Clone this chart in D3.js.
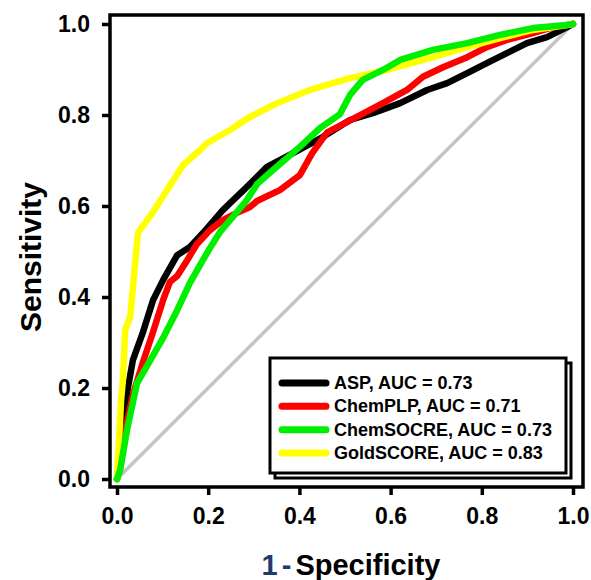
<!DOCTYPE html>
<html>
<head>
<meta charset="utf-8">
<script src="https://cdn.jsdelivr.net/npm/d3@7"></script>
<style>
  html, body { margin: 0; padding: 0; background: #fff; }
  svg { display: block; }
  text { font-family: Arial, "Liberation Sans", sans-serif; font-weight: bold; }
</style>
</head>
<body>
<svg id="chart" width="591" height="580"></svg>
<script>
// ---- data ----
const seriesNames = ["ASP", "ChemPLP", "ChemSOCRE", "GoldSCORE"];
const seriesAUC = ["0.73", "0.71", "0.73", "0.83"];
const seriesColors = ["#000000", "#ff0000", "#00ee00", "#ffff00"];

const aspFPR = [0, 0.013, 0.022, 0.035, 0.057, 0.079, 0.101, 0.132, 0.160, 0.189, 0.232, 0.285, 0.329, 0.386, 0.452, 0.511, 0.561, 0.621, 0.680, 0.724, 0.768, 0.811, 0.855, 0.899, 0.943, 0.987, 1];
const aspTPR = [0, 0.108, 0.189, 0.262, 0.323, 0.393, 0.437, 0.492, 0.510, 0.541, 0.591, 0.642, 0.686, 0.716, 0.752, 0.789, 0.804, 0.826, 0.855, 0.870, 0.892, 0.914, 0.936, 0.958, 0.971, 0.993, 1];

const plpFPR = [0, 0.007, 0.018, 0.035, 0.057, 0.079, 0.101, 0.116, 0.132, 0.154, 0.175, 0.204, 0.232, 0.263, 0.292, 0.307, 0.357, 0.401, 0.428, 0.461, 0.526, 0.583, 0.636, 0.671, 0.715, 0.768, 0.811, 0.855, 0.912, 0.956, 1];
const plpTPR = [0, 0.026, 0.108, 0.185, 0.257, 0.323, 0.393, 0.433, 0.446, 0.481, 0.516, 0.547, 0.569, 0.585, 0.598, 0.611, 0.635, 0.668, 0.716, 0.762, 0.796, 0.826, 0.855, 0.884, 0.905, 0.927, 0.949, 0.965, 0.980, 0.993, 1];

const chemFPR = [0, 0.007, 0.022, 0.044, 0.072, 0.101, 0.132, 0.160, 0.182, 0.204, 0.226, 0.254, 0.285, 0.307, 0.342, 0.401, 0.445, 0.489, 0.511, 0.539, 0.583, 0.621, 0.693, 0.768, 0.840, 0.912, 0.987, 1];
const chemTPR = [0, 0.020, 0.108, 0.211, 0.259, 0.310, 0.371, 0.431, 0.470, 0.508, 0.543, 0.576, 0.613, 0.648, 0.679, 0.730, 0.771, 0.802, 0.844, 0.877, 0.899, 0.921, 0.943, 0.958, 0.976, 0.991, 0.998, 1];

const goldFPR = [0, 0.009, 0.013, 0.018, 0.029, 0.046, 0.079, 0.110, 0.145, 0.182, 0.197, 0.248, 0.292, 0.351, 0.423, 0.511, 0.592, 0.693, 0.768, 0.840, 0.912, 0.987, 1];
const goldTPR = [0, 0.174, 0.218, 0.327, 0.356, 0.541, 0.587, 0.635, 0.690, 0.723, 0.738, 0.767, 0.796, 0.826, 0.855, 0.881, 0.899, 0.927, 0.949, 0.969, 0.987, 0.998, 1];

const tickValues = [0, 0.2, 0.4, 0.6, 0.8, 1.0];
const tickLabels = ["0.0", "0.2", "0.4", "0.6", "0.8", "1.0"];

const xTitleParts = ["1", "-", "Specificity"];
const yTitle = "Sensitivity";

// ---- layout ----
const svg = d3.select("#chart");
const frame = { left: 110, right: 583, top: 15, bottom: 487 };
const x = d3.scaleLinear().domain([0, 1]).range([117, 573]);
const y = d3.scaleLinear().domain([0, 1]).range([479, 24]);

// diagonal reference line
svg.append("line")
  .attr("x1", x(0)).attr("y1", y(0))
  .attr("x2", x(1)).attr("y2", y(1))
  .attr("stroke", "#c4c4c4").attr("stroke-width", 3.5);

const series = [
  { fpr: aspFPR, tpr: aspTPR },
  { fpr: plpFPR, tpr: plpTPR },
  { fpr: chemFPR, tpr: chemTPR },
  { fpr: goldFPR, tpr: goldTPR }
];
const order = [0, 1, 3, 2];
const line = d3.line().x(d => x(d[0])).y(d => y(d[1]));
order.forEach(i => {
  const pts = series[i].fpr.map((f, k) => [f, series[i].tpr[k]]);
  svg.append("path")
    .attr("d", line(pts))
    .attr("fill", "none")
    .attr("stroke", seriesColors[i])
    .attr("stroke-width", 6.5)
    .attr("stroke-linejoin", "round")
    .attr("stroke-linecap", "round");
});

// frame
svg.append("rect")
  .attr("x", frame.left).attr("y", frame.top)
  .attr("width", frame.right - frame.left).attr("height", frame.bottom - frame.top)
  .attr("fill", "none").attr("stroke", "#000").attr("stroke-width", 3.5);

// axes
const yAxis = d3.axisLeft(y).tickValues(tickValues).tickSize(7)
  .tickFormat((d, i) => tickLabels[i]).tickPadding(12);
const gy = svg.append("g").attr("transform", `translate(${frame.left - 1},0)`).call(yAxis);
gy.select(".domain").remove();
gy.selectAll(".tick line").attr("stroke", "#000").attr("stroke-width", 3.5);
gy.selectAll(".tick text").attr("font-size", 23).attr("fill", "#000")
  .style("font-family", "Arial, 'Liberation Sans', sans-serif").style("font-weight", "bold");

const xAxis = d3.axisBottom(x).tickValues(tickValues).tickSize(7)
  .tickFormat((d, i) => tickLabels[i]).tickPadding(13);
const gx = svg.append("g").attr("transform", `translate(0,${frame.bottom + 1})`).call(xAxis);
gx.select(".domain").remove();
gx.selectAll(".tick line").attr("stroke", "#000").attr("stroke-width", 3.5);
gx.selectAll(".tick text").attr("font-size", 23).attr("fill", "#000")
  .style("font-family", "Arial, 'Liberation Sans', sans-serif").style("font-weight", "bold");

// axis titles
svg.append("text")
  .attr("transform", "translate(41,257) rotate(-90)")
  .attr("text-anchor", "middle")
  .attr("font-size", 30)
  .attr("fill", "#000")
  .text(yTitle);

const xt = svg.append("text")
  .attr("x", 351).attr("y", 575)
  .attr("text-anchor", "middle")
  .attr("font-size", 29)
  .attr("fill", "#000");
xt.append("tspan").attr("fill", "#1f3c6e").text(xTitleParts[0]);
xt.append("tspan").attr("fill", "#1f3c6e").attr("dx", 4).text(xTitleParts[1]);
xt.append("tspan").attr("dx", 4).text(xTitleParts[2]);

// legend
const lg = { x: 270, y: 358, w: 296, h: 115 };
svg.append("rect")
  .attr("x", lg.x + 5).attr("y", lg.y + 5).attr("width", lg.w).attr("height", lg.h)
  .attr("fill", "none").attr("stroke", "#000").attr("stroke-width", 3);
svg.append("rect")
  .attr("x", lg.x).attr("y", lg.y).attr("width", lg.w).attr("height", lg.h)
  .attr("fill", "#fff").attr("stroke", "#000").attr("stroke-width", 3);

const rowY = d3.scalePoint().domain(d3.range(seriesNames.length)).range([383, 453]);
seriesNames.forEach((name, i) => {
  svg.append("line")
    .attr("x1", 282).attr("x2", 326)
    .attr("y1", rowY(i)).attr("y2", rowY(i))
    .attr("stroke", seriesColors[i]).attr("stroke-width", 7)
    .attr("stroke-linecap", "round");
  svg.append("text")
    .attr("x", 334).attr("y", rowY(i) + 6)
    .attr("font-size", 18)
    .attr("fill", "#000")
    .text(`${name}, AUC = ${seriesAUC[i]}`);
});
</script>
</body>
</html>
